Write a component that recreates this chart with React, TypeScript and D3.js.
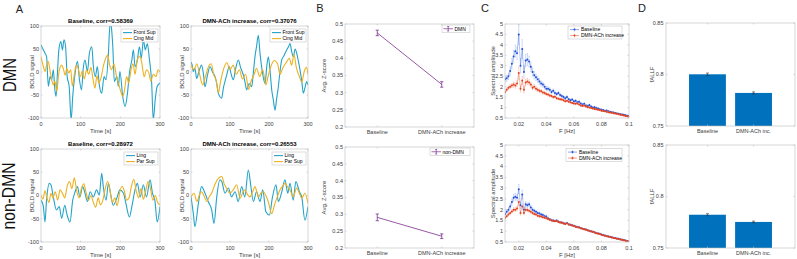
import React from 'react';
import * as d3 from 'd3';

type Pt = [number, number];

// ---------------- DATA ----------------
const TS_TIME_TICKS = [0, 100, 200, 300];
const TS_VAL_TICKS = [-100, -50, 0, 50, 100];

const FRONT_SUP_BASE: Pt[] = [[0,59],[6,48],[10,41],[14,34],[18.5,-31],[23,-10],[27,-17],[31,5],[35,-39],[38,-53],[41,-10],[45,48],[50,66],[54,48],[58,70],[62,55],[66,-10],[71,-31],[76,-104],[80,-53],[86,-2],[92,23],[97,-17],[102,-39],[107,12],[111,26],[117,1],[122,41],[128,55],[132,12],[137,-10],[142,12],[147,-28],[153,-46],[159,-10],[164,-17],[170,41],[174,104],[177,99],[181,55],[185,-21],[191,-10],[195,-31],[199,1],[206,-53],[212,-75],[218,-46],[223,-2],[229,26],[233,48],[237,12],[243,26],[248,55],[253,30],[258,70],[263,48],[268,62],[273,30],[279,-24],[283,-104],[288,-60],[293,-31],[300,-24]];
const CING_MID_BASE: Pt[] = [[0,33],[6,12],[10,1],[14,15],[18,23],[23,2],[27,-17],[31,-28],[35,-20],[40,-42],[44,-8],[48,10],[52,15],[56,8],[61,-7],[65,8],[70,-2],[75,5],[79,-31],[84,-5],[89,15],[93,10],[99,-10],[104,2],[109,-15],[115,5],[120,-5],[126,10],[131,-15],[136,-35],[141,-8],[146,-24],[152,-10],[157,12],[163,30],[168,37],[173,15],[178,5],[184,18],[190,-8],[197,-30],[202,-45],[206,-53],[210,-42],[216,-10],[221,-24],[227,5],[232,18],[237,-5],[243,28],[249,34],[254,20],[260,-10],[266,5],[272,-2],[277,-20],[283,-5],[290,-10],[295,5],[300,0]];
const FRONT_SUP_ACH: Pt[] = [[0,22],[3,15],[6,1],[10,8],[14.5,-14],[20,0],[27,15],[32,-5],[36,-32],[42,-8],[48.7,12],[55,0],[61.5,-10],[66,-25],[70,-46],[78.6,-57],[83,-35],[87,-21],[92,-5],[98,12],[103,-5],[108.6,-17],[114,5],[121.4,26],[127,10],[134,-6],[138,-20],[142.8,-39],[149,-25],[155.6,-32],[160,0],[164,33],[168,55],[172.7,80],[177,40],[181,12],[185,-10],[190,-25],[194,10],[198.3,33],[203,0],[207,-39],[211,-60],[215.4,-83],[220,-55],[224,-32],[228,0],[232.5,26],[238,35],[245.4,48],[250,55],[254,62],[258,45],[262.5,33],[267,50],[271,41],[275,25],[279.6,4],[284,-20],[288,-46],[292,-35],[296.7,-21],[300,-28]];
const CING_MID_ACH: Pt[] = [[0,15],[8,5],[15,18],[22,-5],[30,-28],[37,-10],[44,10],[52,18],[58,-5],[65,-20],[70,-45],[76,-20],[84,8],[92,20],[100,5],[108,15],[116,-5],[124,5],[132,-15],[140,-5],[148,-38],[154,-20],[162,-5],[168,8],[176,-10],[184,5],[192,-28],[198,-8],[206,15],[214,25],[222,18],[228,-5],[236,10],[244,20],[252,30],[258,15],[264,38],[270,10],[278,-10],[284,-22],[290,0],[296,10],[300,-5]];
const LING_BASE: Pt[] = [[0,-10],[6,-24],[10,-57],[14,-10],[21,26],[25,23],[31,-3],[39,-31],[46,-24],[52,-49],[60,-21],[65,-39],[73,-57],[80,-10],[86,8],[92,19],[98,-3],[105,19],[111,5],[117,-13],[124,8],[132,-3],[140,12],[147,1],[153,48],[157,19],[164,-10],[170,26],[176,1],[182,-21],[191,-6],[199,12],[208,5],[214,-17],[223,-46],[229,-24],[237,12],[243,26],[250,-3],[258,23],[266,-3],[275,34],[281,5],[287,-10],[293,-57],[300,-24]];
const PAR_SUP_BASE: Pt[] = [[0,0],[5,-8],[10,10],[15,-5],[20,-15],[25,5],[30,-5],[36,8],[42,-10],[48,12],[54,5],[60,-5],[66,20],[72,30],[78,15],[84,38],[90,10],[96,-5],[102,15],[108,25],[114,5],[120,-10],[126,0],[132,-15],[138,-25],[144,-5],[150,-20],[156,-10],[162,15],[168,30],[174,10],[180,-15],[186,-5],[192,-22],[198,5],[204,20],[210,10],[216,-10],[222,-5],[228,20],[234,35],[240,10],[246,-5],[252,15],[258,-8],[264,10],[270,30],[276,15],[282,-10],[288,0],[294,-15],[300,-20]];
const LING_ACH: Pt[] = [[0,-3],[6,-39],[10,-67],[19,-17],[27,19],[36,5],[44,-13],[53,-31],[59,-60],[66,-3],[74,34],[79,30],[87,5],[96,16],[104,-3],[113,8],[121,-13],[130,19],[138,-3],[147,55],[153,23],[160,-13],[168,8],[177,-13],[184,12],[192,-35],[201,-42],[209,-3],[218,23],[224,-13],[232,5],[241,34],[248,5],[254,26],[262,-10],[269,30],[278,8],[284,-3],[292,-53],[300,-24]];
const PAR_SUP_ACH: Pt[] = [[0,-3],[8,5],[15,-13],[21,0],[27,8],[34,-2],[40,-13],[47,-2],[53,5],[61,23],[70,37],[79,41],[85,25],[91,16],[100,5],[108,12],[117,23],[126,-6],[132,5],[138,12],[145,2],[151,-3],[158,8],[164,19],[173,-3],[179,5],[185,8],[192,0],[198,-13],[207,-39],[214,-20],[220,-6],[228,12],[235,20],[241,26],[248,18],[254,12],[262,-3],[271,16],[278,5],[284,-6],[292,5],[300,-17]];

const COND_LABELS = ['Baseline', 'DMN-ACh increase'];
const ZSCORE_DMN = [0.474, 0.324];
const ZSCORE_DMN_ERR = [0.008, 0.008];
const ZSCORE_NON = [0.291, 0.235];
const ZSCORE_NON_ERR = [0.01, 0.007];
const Z_TICKS = [0.2, 0.25, 0.3, 0.35, 0.4, 0.45, 0.5];

const FREQS = d3.range(73).map(i => 0.01 + i * 0.00125);
const F_TICKS = [0.02, 0.04, 0.06, 0.08, 0.1];
const AMP_TICKS = [0.5, 1, 1.5, 2, 2.5, 3, 3.5, 4, 4.5, 5];
const SPEC_DMN_BASE = [2.35,2.4,2.5,2.75,3.1,3.45,3.7,3.6,4.5,3.0,3.8,2.7,3.25,3.3,3.2,2.95,2.7,2.55,2.45,2.35,2.25,2.15,2.1,2.0,1.9,1.9,1.85,1.75,1.8,1.7,1.65,1.7,1.6,1.55,1.5,1.45,1.5,1.4,1.35,1.38,1.3,1.32,1.25,1.28,1.2,1.15,1.18,1.1,1.08,1.12,1.05,1.0,1.02,0.98,0.95,0.92,0.9,0.88,0.85,0.86,0.82,0.8,0.78,0.76,0.74,0.72,0.7,0.68,0.67,0.65,0.63,0.61,0.6];
const SPEC_DMN_BASE_ERR = [0.12,0.14,0.16,0.2,0.25,0.3,0.28,0.3,0.5,0.35,0.45,0.3,0.3,0.28,0.26,0.22,0.2,0.18,0.16,0.15,0.14,0.13,0.12,0.12,0.11,0.1,0.1,0.09,0.09,0.09,0.08,0.08,0.08,0.07,0.07,0.07,0.07,0.06,0.06,0.06,0.06,0.06,0.05,0.05,0.05,0.05,0.05,0.05,0.05,0.04,0.04,0.04,0.04,0.04,0.04,0.04,0.04,0.04,0.03,0.03,0.03,0.03,0.03,0.03,0.03,0.03,0.03,0.03,0.03,0.03,0.03,0.03,0.03];
const SPEC_DMN_ACH = [1.75,1.85,1.95,2.0,2.05,2.1,2.05,2.15,2.65,1.9,2.3,1.85,2.2,2.25,2.2,2.1,1.95,2.0,1.9,1.85,1.8,1.78,1.72,1.7,1.65,1.62,1.58,1.55,1.5,1.52,1.45,1.42,1.4,1.38,1.35,1.3,1.32,1.28,1.25,1.22,1.2,1.18,1.2,1.15,1.1,1.08,1.1,1.05,1.02,1.0,0.98,0.95,0.93,0.92,0.9,0.88,0.85,0.84,0.82,0.8,0.78,0.76,0.75,0.73,0.72,0.7,0.68,0.66,0.64,0.62,0.6,0.58,0.56];
const SPEC_DMN_ACH_ERR = [0.08,0.08,0.09,0.1,0.1,0.12,0.12,0.14,0.3,0.15,0.2,0.15,0.15,0.14,0.13,0.12,0.11,0.1,0.1,0.09,0.09,0.08,0.08,0.08,0.07,0.07,0.07,0.06,0.06,0.06,0.06,0.05,0.05,0.05,0.05,0.05,0.05,0.05,0.04,0.04,0.04,0.04,0.04,0.04,0.04,0.04,0.04,0.04,0.03,0.03,0.03,0.03,0.03,0.03,0.03,0.03,0.03,0.03,0.03,0.03,0.03,0.03,0.02,0.02,0.02,0.02,0.02,0.02,0.02,0.02,0.02,0.02,0.02];
const SPEC_NON_BASE = [1.8,1.9,2.0,2.15,2.35,2.55,2.6,2.55,2.95,2.2,2.7,2.0,2.25,2.2,2.25,2.1,2.0,1.95,1.9,1.85,1.82,1.78,1.75,1.7,1.68,1.6,1.55,1.52,1.5,1.48,1.5,1.45,1.42,1.4,1.38,1.35,1.38,1.32,1.3,1.28,1.25,1.22,1.2,1.18,1.15,1.12,1.1,1.08,1.05,1.02,1.0,0.98,0.95,0.92,0.9,0.88,0.85,0.82,0.8,0.78,0.76,0.74,0.72,0.7,0.68,0.66,0.65,0.63,0.61,0.59,0.57,0.55,0.53];
const SPEC_NON_BASE_ERR = [0.08,0.09,0.1,0.12,0.14,0.16,0.16,0.15,0.22,0.15,0.2,0.12,0.12,0.11,0.1,0.1,0.09,0.08,0.08,0.08,0.07,0.07,0.07,0.06,0.06,0.05,0.05,0.05,0.05,0.05,0.05,0.04,0.04,0.04,0.04,0.04,0.04,0.04,0.04,0.04,0.04,0.04,0.03,0.03,0.03,0.03,0.03,0.03,0.03,0.03,0.03,0.03,0.03,0.03,0.03,0.03,0.03,0.03,0.02,0.02,0.02,0.02,0.02,0.02,0.02,0.02,0.02,0.02,0.02,0.02,0.02,0.02,0.02];
const SPEC_NON_ACH = [1.62,1.7,1.78,1.85,1.92,2.0,2.0,2.05,2.35,1.85,2.15,1.85,2.0,1.98,1.95,1.9,1.85,1.8,1.78,1.72,1.7,1.68,1.65,1.62,1.6,1.57,1.53,1.5,1.48,1.47,1.48,1.43,1.41,1.39,1.36,1.34,1.37,1.31,1.29,1.27,1.24,1.21,1.19,1.17,1.14,1.11,1.09,1.07,1.04,1.01,0.99,0.97,0.94,0.91,0.89,0.87,0.84,0.81,0.79,0.77,0.75,0.73,0.71,0.69,0.67,0.65,0.64,0.62,0.6,0.58,0.56,0.54,0.52];
const SPEC_NON_ACH_ERR = [0.06,0.06,0.07,0.08,0.08,0.09,0.09,0.1,0.15,0.1,0.12,0.09,0.09,0.08,0.08,0.07,0.07,0.06,0.06,0.06,0.06,0.05,0.05,0.05,0.05,0.05,0.04,0.04,0.04,0.04,0.04,0.04,0.04,0.04,0.04,0.03,0.03,0.03,0.03,0.03,0.03,0.03,0.03,0.03,0.03,0.03,0.03,0.03,0.03,0.03,0.03,0.03,0.03,0.03,0.03,0.03,0.02,0.02,0.02,0.02,0.02,0.02,0.02,0.02,0.02,0.02,0.02,0.02,0.02,0.02,0.02,0.02,0.02];

const BAR_LABELS = ['Baseline', 'DMN-ACh inc.'];
const FALFF_DMN = [0.8002, 0.7821];
const FALFF_DMN_ERR = [0.0012, 0.001];
const FALFF_NON = [0.7823, 0.7753];
const FALFF_NON_ERR = [0.001, 0.0008];
const FALFF_TICKS = [0.75, 0.8, 0.85];

// ---------------- STYLE ----------------
const FONT = "'Liberation Sans', Arial, Helvetica, sans-serif";
const AX = '#bdbdbd';
const TXT = '#3c3c3c';
const CYAN = '#23a3c9';
const ORANGE = '#EDB120';
const PURPLE = '#7E2F8E';
const BAR = '#0072BD';
const SB = '#2450d8';
const SB_L = '#9ab6ee';
const SR = '#e2401f';
const SR_L = '#f2a48e';
const FS = 5.5;
const TL = 1.5;

const fmt = (v: number) => String(+v.toFixed(3));

function Box({ x0, x1, y0, y1, xt, yt }: { x0: number; x1: number; y0: number; y1: number; xt: number[]; yt: number[] }) {
  return (
    <g>
      <rect x={x0} y={y0} width={x1 - x0} height={y1 - y0} fill="none" stroke={AX} strokeWidth={0.6} />
      {xt.map((p, i) => (
        <g key={'x' + i}>
          <line x1={p} x2={p} y1={y1} y2={y1 - TL} stroke={AX} strokeWidth={0.6} />
          <line x1={p} x2={p} y1={y0} y2={y0 + TL} stroke={AX} strokeWidth={0.6} />
        </g>
      ))}
      {yt.map((p, i) => (
        <g key={'y' + i}>
          <line x1={x0} x2={x0 + TL} y1={p} y2={p} stroke={AX} strokeWidth={0.6} />
          <line x1={x1} x2={x1 - TL} y1={p} y2={p} stroke={AX} strokeWidth={0.6} />
        </g>
      ))}
    </g>
  );
}

function XLabels({ items, y }: { items: { x: number; t: string }[]; y: number }) {
  return (
    <g>
      {items.map((d, i) => (
        <text key={i} x={d.x} y={y} textAnchor="middle" fontFamily={FONT} fontSize={FS} fill={TXT}>{d.t}</text>
      ))}
    </g>
  );
}
function YLabels({ items, x }: { items: { y: number; t: string }[]; x: number }) {
  return (
    <g>
      {items.map((d, i) => (
        <text key={i} x={x} y={d.y} dy="0.35em" textAnchor="end" fontFamily={FONT} fontSize={FS} fill={TXT}>{d.t}</text>
      ))}
    </g>
  );
}
function VLabel({ x, y, t, size = 6 }: { x: number; y: number; t: string; size?: number }) {
  return (
    <text transform={`translate(${x},${y}) rotate(-90)`} dy="0.35em" textAnchor="middle" fontFamily={FONT} fontSize={size} fill={TXT}>{t}</text>
  );
}

function TSPanel({ x0, x1, y0, y1, title, s1, s2, n1, n2, legW, id }: any) {
  const xs = d3.scaleLinear().domain([0, 300]).range([x0, x1]);
  const ys = d3.scaleLinear().domain([-100, 100]).range([y1, y0]);
  const ln = d3.line<Pt>().x(d => xs(d[0])).y(d => ys(d[1])).curve(d3.curveMonotoneX);
  const lx1 = x1 - 2, lx0 = lx1 - legW, ly0 = y0 + 3;
  return (
    <g>
      <defs>
        <clipPath id={id}><rect x={x0} y={y0} width={x1 - x0} height={y1 - y0} /></clipPath>
      </defs>
      <rect x={x0} y={y0} width={x1 - x0} height={y1 - y0} fill="#fff" />
      <g clipPath={`url(#${id})`}>
        <path d={ln(s1) || ''} fill="none" stroke={CYAN} strokeWidth={1.1} strokeLinejoin="round" />
        <path d={ln(s2) || ''} fill="none" stroke={ORANGE} strokeWidth={1.1} strokeLinejoin="round" />
      </g>
      <Box x0={x0} x1={x1} y0={y0} y1={y1} xt={TS_TIME_TICKS.map(v => xs(v))} yt={TS_VAL_TICKS.map(v => ys(v))} />
      <XLabels y={y1 + 7.5} items={TS_TIME_TICKS.map(v => ({ x: xs(v), t: String(v) }))} />
      <YLabels x={x0 - 2} items={TS_VAL_TICKS.map(v => ({ y: ys(v), t: String(v) }))} />
      <text x={(x0 + x1) / 2} y={y0 - 3} textAnchor="middle" fontFamily={FONT} fontSize={6} fontWeight="bold" fill="#000">{title}</text>
      <text x={(x0 + x1) / 2} y={y1 + 14.5} textAnchor="middle" fontFamily={FONT} fontSize={6} fill={TXT}>Time [s]</text>
      <VLabel x={x0 - 9} y={(y0 + y1) / 2} t="BOLD signal" />
      <rect x={lx0} y={ly0} width={legW} height={13} fill="#fff" stroke={AX} strokeWidth={0.5} />
      {[[n1, CYAN], [n2, ORANGE]].map(([n, c], i) => (
        <g key={i}>
          <line x1={lx0 + 2} x2={lx0 + 11} y1={ly0 + 3.6 + i * 6} y2={ly0 + 3.6 + i * 6} stroke={c as string} strokeWidth={1.1} />
          <text x={lx0 + 12.5} y={ly0 + 3.6 + i * 6} dy="0.35em" fontFamily={FONT} fontSize={5} fill="#000">{n}</text>
        </g>
      ))}
    </g>
  );
}

function ZPanel({ x0, x1, y0, y1, vals, errs, name, legX0 }: any) {
  const xs = d3.scalePoint<string>().domain(COND_LABELS).range([x0, x1]).padding(0.5);
  const ys = d3.scaleLinear().domain([0.2, 0.5]).range([y1, y0]);
  const pts: Pt[] = COND_LABELS.map((c, i) => [xs(c) as number, ys(vals[i])]);
  const legY = y0 + 1;
  const legH = 7.5;
  return (
    <g>
      <rect x={x0} y={y0} width={x1 - x0} height={y1 - y0} fill="#fff" />
      <path d={d3.line()(pts) || ''} fill="none" stroke={PURPLE} strokeWidth={0.8} />
      {COND_LABELS.map((c, i) => {
        const x = xs(c) as number;
        const a = ys(vals[i] + errs[i]), b = ys(vals[i] - errs[i]);
        return (
          <g key={i} stroke={PURPLE} strokeWidth={0.8}>
            <line x1={x} x2={x} y1={a} y2={b} />
            <line x1={x - 1.6} x2={x + 1.6} y1={a} y2={a} />
            <line x1={x - 1.6} x2={x + 1.6} y1={b} y2={b} />
          </g>
        );
      })}
      <Box x0={x0} x1={x1} y0={y0} y1={y1} xt={COND_LABELS.map(c => xs(c) as number)} yt={Z_TICKS.map(v => ys(v))} />
      <XLabels y={y1 + 7} items={COND_LABELS.map(c => ({ x: xs(c) as number, t: c }))} />
      <YLabels x={x0 - 2} items={Z_TICKS.map(v => ({ y: ys(v), t: fmt(v) }))} />
      <VLabel x={x0 - 21} y={(y0 + y1) / 2} t="Avg. Z-score" />
      <rect x={legX0} y={legY} width={x1 - 4 - legX0} height={legH} fill="#fff" stroke={AX} strokeWidth={0.5} />
      <g stroke={PURPLE} strokeWidth={0.7}>
        <line x1={legX0 + 1.5} x2={legX0 + 11} y1={legY + legH / 2} y2={legY + legH / 2} />
        <line x1={legX0 + 6.2} x2={legX0 + 6.2} y1={legY + 1.5} y2={legY + legH - 1.5} />
        <line x1={legX0 + 5.2} x2={legX0 + 7.2} y1={legY + 1.5} y2={legY + 1.5} />
        <line x1={legX0 + 5.2} x2={legX0 + 7.2} y1={legY + legH - 1.5} y2={legY + legH - 1.5} />
      </g>
      <text x={legX0 + 12.5} y={legY + legH / 2} dy="0.35em" fontFamily={FONT} fontSize={5} fill="#000">{name}</text>
    </g>
  );
}

function SpecPanel({ x0, x1, y0, y1, base, baseErr, ach, achErr, id, legTop, legW }: any) {
  const xs = d3.scaleLinear().domain([0.01, 0.1]).range([x0, x1]);
  const ys = d3.scaleLinear().domain([0.5, 5]).range([y1, y0]);
  const series = [
    { v: base, e: baseErr, c: SB, l: SB_L, n: 'Baseline' },
    { v: ach, e: achErr, c: SR, l: SR_L, n: 'DMN-ACh increase' },
  ];
  const lx1 = x1 - 7, lx0 = lx1 - legW;
  return (
    <g>
      <defs>
        <clipPath id={id}><rect x={x0} y={y0} width={x1 - x0} height={y1 - y0} /></clipPath>
      </defs>
      <rect x={x0} y={y0} width={x1 - x0} height={y1 - y0} fill="#fff" />
      <g clipPath={`url(#${id})`}>
        {series.map((s, k) => {
          const pts: Pt[] = FREQS.map((f, i) => [xs(f), ys(s.v[i])]);
          return (
            <g key={k}>
              {FREQS.map((f, i) => {
                const x = xs(f), a = ys(s.v[i] + s.e[i]), b = ys(s.v[i] - s.e[i]);
                return (
                  <g key={i} stroke={s.l} strokeWidth={0.5}>
                    <line x1={x} x2={x} y1={a} y2={b} />
                    <line x1={x - 0.6} x2={x + 0.6} y1={a} y2={a} />
                    <line x1={x - 0.6} x2={x + 0.6} y1={b} y2={b} />
                  </g>
                );
              })}
              <path d={d3.line()(pts) || ''} fill="none" stroke={s.c} strokeWidth={0.4} strokeOpacity={0.8} />
              {pts.map((p, i) => <circle key={i} cx={p[0]} cy={p[1]} r={1} fill={s.c} />)}
            </g>
          );
        })}
      </g>
      <Box x0={x0} x1={x1} y0={y0} y1={y1} xt={F_TICKS.map(v => xs(v))} yt={AMP_TICKS.map(v => ys(v))} />
      <XLabels y={y1 + 7.5} items={F_TICKS.map(v => ({ x: xs(v), t: fmt(v) }))} />
      <YLabels x={x0 - 2} items={AMP_TICKS.map(v => ({ y: ys(v), t: fmt(v) }))} />
      <text x={(x0 + x1) / 2} y={y1 + 14.5} textAnchor="middle" fontFamily={FONT} fontSize={6} fill={TXT}>F [Hz]</text>
      <VLabel x={x0 - 12} y={(y0 + y1) / 2} t="Spectral amplitude" />
      <rect x={lx0} y={legTop} width={legW} height={13} fill="#fff" stroke={AX} strokeWidth={0.5} />
      {series.map((s, i) => {
        const yy = legTop + 3.6 + i * 6;
        return (
          <g key={i}>
            <line x1={lx0 + 2} x2={lx0 + 11} y1={yy} y2={yy} stroke={s.c} strokeWidth={0.5} />
            <line x1={lx0 + 6.5} x2={lx0 + 6.5} y1={yy - 2} y2={yy + 2} stroke={s.l} strokeWidth={0.6} />
            <circle cx={lx0 + 6.5} cy={yy} r={1} fill={s.c} />
            <text x={lx0 + 13} y={yy} dy="0.35em" fontFamily={FONT} fontSize={5} fill="#000">{s.n}</text>
          </g>
        );
      })}
    </g>
  );
}

function BarPanel({ x0, x1, y0, y1, vals, errs }: any) {
  const xs = d3.scaleBand<string>().domain(BAR_LABELS).range([x0, x1]).paddingInner(0.2).paddingOuter(0.5);
  const ys = d3.scaleLinear().domain([0.75, 0.85]).range([y1, y0]);
  return (
    <g>
      <rect x={x0} y={y0} width={x1 - x0} height={y1 - y0} fill="#fff" />
      {BAR_LABELS.map((c, i) => (
        <rect key={i} x={xs(c)} y={ys(vals[i])} width={xs.bandwidth()} height={y1 - ys(vals[i])} fill={BAR} />
      ))}
      {BAR_LABELS.map((c, i) => {
        const x = (xs(c) as number) + xs.bandwidth() / 2;
        const a = ys(vals[i] + errs[i]), b = ys(vals[i] - errs[i]);
        return (
          <g key={'e' + i} stroke="#333" strokeWidth={0.6}>
            <line x1={x} x2={x} y1={a} y2={b} />
            <line x1={x - 1.5} x2={x + 1.5} y1={a} y2={a} />
            <line x1={x - 1.5} x2={x + 1.5} y1={b} y2={b} />
          </g>
        );
      })}
      <Box x0={x0} x1={x1} y0={y0} y1={y1} xt={BAR_LABELS.map(c => (xs(c) as number) + xs.bandwidth() / 2)} yt={FALFF_TICKS.map(v => ys(v))} />
      <XLabels y={y1 + 7} items={BAR_LABELS.map(c => ({ x: (xs(c) as number) + xs.bandwidth() / 2, t: c }))} />
      <YLabels x={x0 - 2.5} items={FALFF_TICKS.map(v => ({ y: ys(v), t: fmt(v) }))} />
      <VLabel x={x0 - 14} y={(y0 + y1) / 2} t="fALLF" />
    </g>
  );
}

function Letter({ x, y, t }: { x: number; y: number; t: string }) {
  return <text x={x} y={y} fontFamily={FONT} fontSize={11} fill="#222" textAnchor="middle">{t}</text>;
}

export default function App() {
  return (
    <svg width={797} height={259} style={{ position: 'absolute', left: 0, top: 0, background: '#fff' }}>
      <rect x={0} y={0} width={797} height={259} fill="#fff" />
      <Letter x={19.5} y={13} t="A" />
      <Letter x={320} y={12} t="B" />
      <Letter x={485} y={12} t="C" />
      <Letter x={642} y={12} t="D" />
      <text transform="translate(9.5,75) rotate(-90)" dy="0.35em" textAnchor="middle" fontFamily={FONT} fontSize={18} fill="#111" textLength={34} lengthAdjust="spacingAndGlyphs">DMN</text>
      <text transform="translate(9,196) rotate(-90)" dy="0.35em" textAnchor="middle" fontFamily={FONT} fontSize={18} fill="#111" textLength={67} lengthAdjust="spacingAndGlyphs">non-DMN</text>

      <TSPanel id="c1" x0={41} x1={160} y0={26} y1={118} title="Baseline, corr=0.58369" s1={FRONT_SUP_BASE} s2={CING_MID_BASE} n1="Front Sup" n2="Cing Mid" legW={37} />
      <TSPanel id="c2" x0={191} x1={308} y0={26} y1={118} title="DMN-ACh increase, corr=0.37076" s1={FRONT_SUP_ACH} s2={CING_MID_ACH} n1="Front Sup" n2="Cing Mid" legW={36} />
      <TSPanel id="c3" x0={41} x1={160} y0={149} y1={242} title="Baseline, corr=0.28972" s1={LING_BASE} s2={PAR_SUP_BASE} n1="Ling" n2="Par Sup" legW={34} />
      <TSPanel id="c4" x0={191} x1={308} y0={149} y1={242} title="DMN-ACh increase, corr=0.26553" s1={LING_ACH} s2={PAR_SUP_ACH} n1="Ling" n2="Par Sup" legW={34} />

      <ZPanel x0={345} x1={474} y0={24} y1={127} vals={ZSCORE_DMN} errs={ZSCORE_DMN_ERR} name="DMN" legX0={442} />
      <ZPanel x0={345} x1={474} y0={147} y1={248} vals={ZSCORE_NON} errs={ZSCORE_NON_ERR} name="non-DMN" legX0={430} />

      <SpecPanel id="s1" x0={505} x1={629} y0={24} y1={118} base={SPEC_DMN_BASE} baseErr={SPEC_DMN_BASE_ERR} ach={SPEC_DMN_ACH} achErr={SPEC_DMN_ACH_ERR} legTop={26} legW={54} />
      <SpecPanel id="s2" x0={505} x1={629} y0={145} y1={242} base={SPEC_NON_BASE} baseErr={SPEC_NON_BASE_ERR} ach={SPEC_NON_ACH} achErr={SPEC_NON_ACH_ERR} legTop={148.5} legW={56} />

      <BarPanel x0={666} x1={795} y0={23} y1={126} vals={FALFF_DMN} errs={FALFF_DMN_ERR} />
      <BarPanel x0={666} x1={795} y0={145} y1={248} vals={FALFF_NON} errs={FALFF_NON_ERR} />
    </svg>
  );
}
